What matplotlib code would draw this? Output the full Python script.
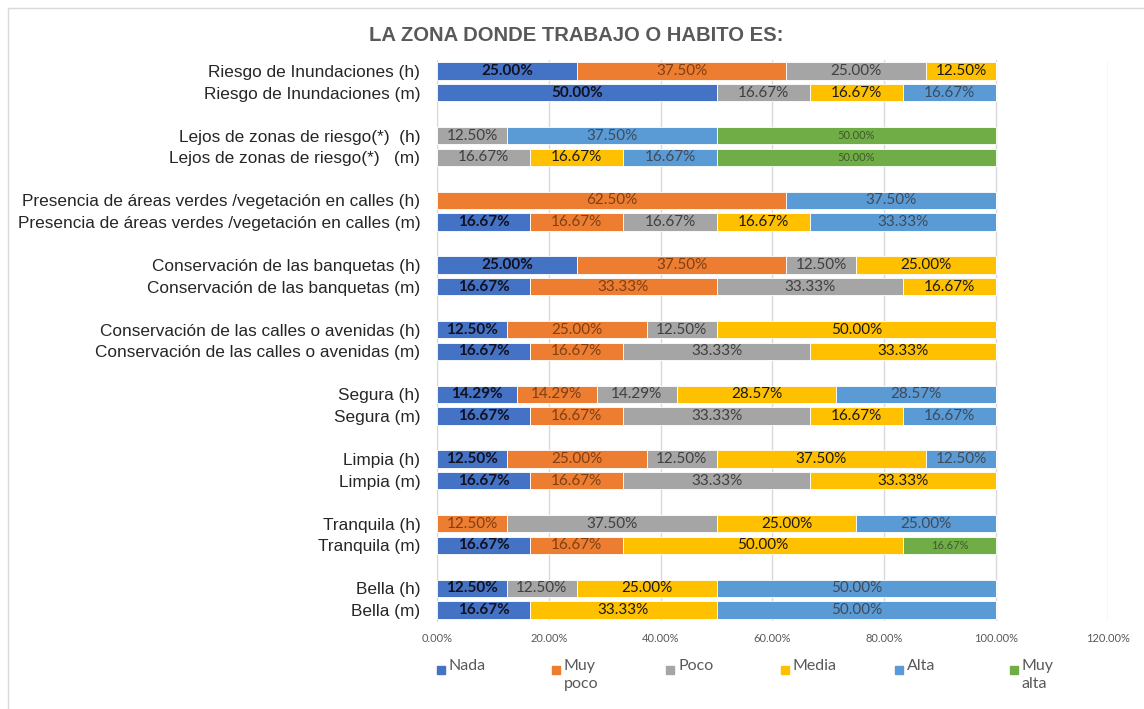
import matplotlib.pyplot as plt
from matplotlib.patches import Rectangle
from matplotlib.ticker import PercentFormatter

# Categories, top to bottom
categories = [
    'Riesgo de Inundaciones (h)', 'Riesgo de Inundaciones (m)',
    'Lejos de zonas de riesgo(*)  (h)', 'Lejos de zonas de riesgo(*)   (m)',
    'Presencia de áreas verdes /vegetación en calles (h)',
    'Presencia de áreas verdes /vegetación en calles (m)',
    'Conservación de las banquetas (h)', 'Conservación de las banquetas (m)',
    'Conservación de las calles o avenidas (h)', 'Conservación de las calles o avenidas (m)',
    'Segura (h)', 'Segura (m)',
    'Limpia (h)', 'Limpia (m)',
    'Tranquila (h)', 'Tranquila (m)',
    'Bella (h)', 'Bella (m)',
]

series_names = ['Nada', 'Muy\npoco', 'Poco', 'Media', 'Alta', 'Muy\nalta']

nada = [0.25, 0.50, 0, 0, 0, 0.1667, 0.25, 0.1667, 0.125, 0.1667,
        0.1429, 0.1667, 0.125, 0.1667, 0, 0.1667, 0.125, 0.1667]
muy_poco = [0.375, 0, 0, 0, 0.625, 0.1667, 0.375, 0.3333, 0.25, 0.1667,
            0.1429, 0.1667, 0.25, 0.1667, 0.125, 0.1667, 0, 0]
poco = [0.25, 0.1667, 0.125, 0.1667, 0, 0.1667, 0.125, 0.3333, 0.125, 0.3333,
        0.1429, 0.3333, 0.125, 0.3333, 0.375, 0, 0.125, 0]
media = [0.125, 0.1667, 0, 0.1667, 0, 0.1667, 0.25, 0.1667, 0.50, 0.3333,
         0.2857, 0.1667, 0.375, 0.3333, 0.25, 0.50, 0.25, 0.3333]
alta = [0, 0.1667, 0.375, 0.1667, 0.375, 0.3333, 0, 0, 0, 0,
        0.2857, 0.1667, 0.125, 0, 0.25, 0, 0.50, 0.50]
muy_alta = [0, 0, 0.50, 0.50, 0, 0, 0, 0, 0, 0,
            0, 0, 0, 0, 0, 0.1667, 0, 0]

x_ticks = [0, 0.2, 0.4, 0.6, 0.8, 1.0, 1.2]

colors = ['#4472C4', '#ED7D31', '#A5A5A5', '#FFC000', '#5B9BD5', '#70AD47']
label_colors = ['#111122', '#7f3f14', '#404040', '#1a1a1a', '#3f4a58', '#3f5a2c']
label_weights = ['bold', 'normal', 'normal', 'normal', 'normal', 'normal']
label_sizes = [11, 11, 11, 11, 11, 8]


def main():
    fig = plt.figure(figsize=(11.44, 7.09), dpi=100)
    ax = fig.add_axes([0.382, 0.1244, 0.5865, 0.7906])

    # pairs of bars with an empty row between pairs
    ypos = [3 * (i // 2) + (i % 2) for i in range(len(categories))]
    values = [nada, muy_poco, poco, media, alta, muy_alta]
    left = [0.0] * len(categories)
    for k, vals in enumerate(values):
        ax.barh(ypos, vals, left=left, height=0.8, color=colors[k],
                edgecolor='white', linewidth=0.6, zorder=3)
        for y, l, v in zip(ypos, left, vals):
            if v > 0:
                ax.text(l + v / 2, y, f'{v * 100:.2f}%', ha='center', va='center',
                        fontsize=label_sizes[k], color=label_colors[k],
                        fontweight=label_weights[k], family='Lato', zorder=4)
        left = [a + b for a, b in zip(left, vals)]

    ax.set_yticks(ypos)
    ax.set_yticklabels(categories, fontsize=12.4, color='#262626', family='Liberation Sans')
    ax.set_ylim(max(ypos) + 0.5, -0.5)
    ax.set_xlim(0, 1.2)
    ax.set_xticks(x_ticks)
    ax.xaxis.set_major_formatter(PercentFormatter(1, decimals=2))
    ax.tick_params(axis='x', labelsize=8, colors='#595959', length=0, pad=9)
    ax.tick_params(axis='y', length=0, pad=12)
    for lab in ax.get_xticklabels():
        lab.set_family('Lato')
    ax.grid(axis='x', color='#d9d9d9', linewidth=1, zorder=0)
    for s in ['top', 'right', 'bottom']:
        ax.spines[s].set_visible(False)
    ax.spines['left'].set_color('#d9d9d9')

    fig.suptitle('LA ZONA DONDE TRABAJO O HABITO ES:', x=0.504, y=0.964,
                 fontsize=14.6, fontweight='bold', color='#595959',
                 family='Liberation Sans')

    # legend, equally spaced entries like the spreadsheet
    W, H = 1144, 709
    for k, name in enumerate(series_names):
        x0 = 437 + 114.5 * k
        fig.patches.append(Rectangle((x0 / W, 1 - 674 / H), 8 / W, 8 / H,
                                     transform=fig.transFigure, color=colors[k]))
        fig.text((x0 + 12) / W, 1 - 659 / H, name, ha='left', va='top',
                 fontsize=11.5, color='#595959', family='Lato', linespacing=1.4)

    # chart frame
    fig.patches.append(Rectangle((8 / W, -0.01), 1.02, 1 - 8 / H + 0.01,
                                 transform=fig.transFigure, fill=False,
                                 edgecolor='#d9d9d9', linewidth=1))

    fig.savefig('out.png', dpi=100)


if __name__ == "__main__":
    main()
